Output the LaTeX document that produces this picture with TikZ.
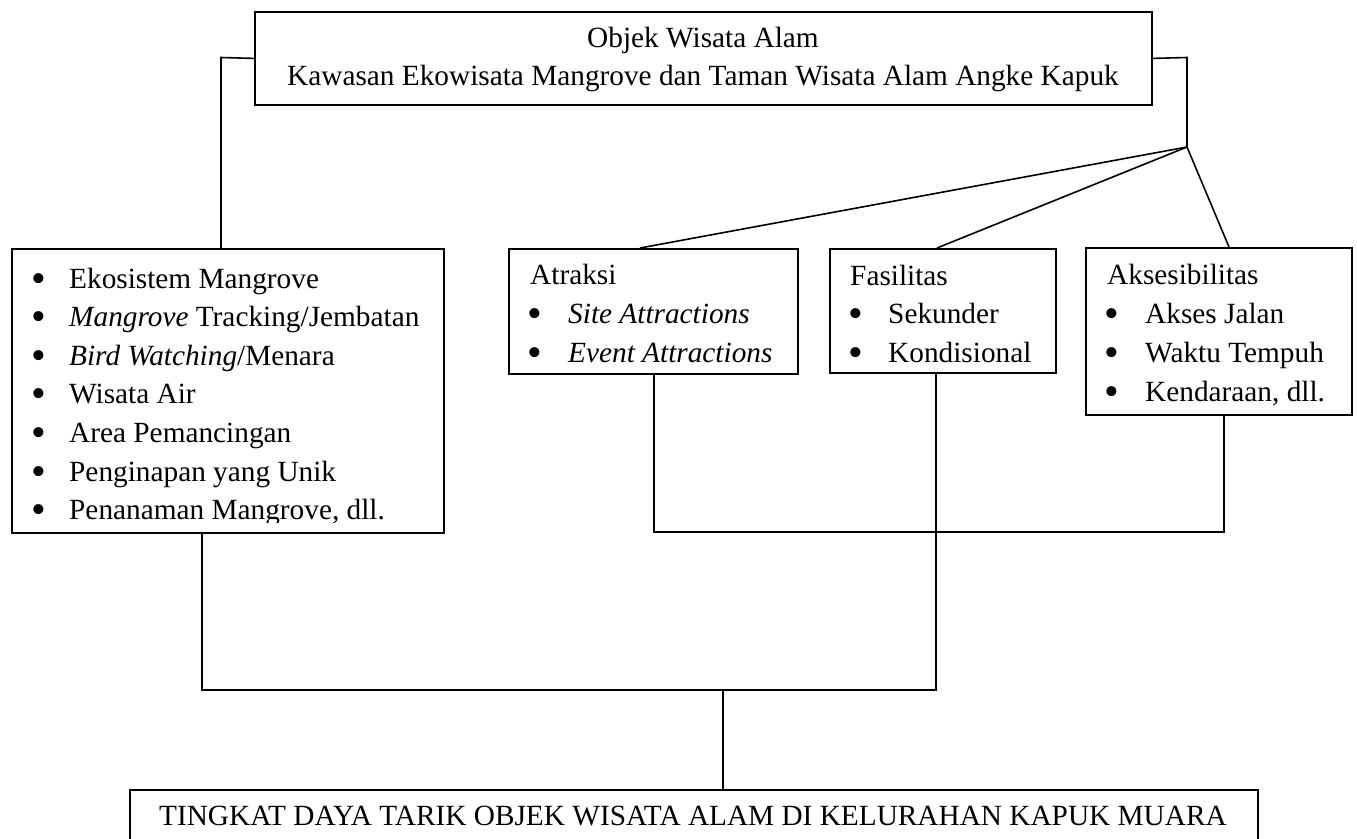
\documentclass[tikz,border=0pt]{standalone}
\usepackage{fontspec}
\setmainfont{Liberation Serif}
\begin{document}
\begin{tikzpicture}[x=1pt,y=-1pt,
  box/.style={draw, line width=1.8pt, inner sep=0pt, anchor=north west},
  conn/.style={line width=1.6pt},
  txt/.style={inner sep=0pt, anchor=base west, font=\fontsize{29.3}{38}\selectfont},
  ctxt/.style={inner sep=0pt, anchor=base, font=\fontsize{29.3}{38}\selectfont},
  bul/.style={inner sep=0pt, anchor=base, yshift=-4pt, font=\fontsize{42}{42}\selectfont}]
\clip (0,0) rectangle (1357,838);
\fill[white] (0,0) rectangle (1357,838);

% boxes
\node[box, minimum width=897pt, minimum height=93pt] (top) at (254,11) {};
\node[box, minimum width=432pt, minimum height=284pt] (lb) at (11,248) {};
\node[box, minimum width=289pt, minimum height=125pt] (atr) at (508,248) {};
\node[box, minimum width=226pt, minimum height=124pt] (fas) at (829,248) {};
\node[box, minimum width=266pt, minimum height=167pt] (aks) at (1085,247) {};
\node[box, minimum width=1128pt, minimum height=80pt] (bot) at (129,789) {};

% top text
\node[ctxt] (toptxt1) at (703,47) {Objek Wisata Alam};
\node[ctxt] (toptxt2) at (703,85) {Kawasan Ekowisata Mangrove dan Taman Wisata Alam Angke Kapuk};

% left box list
\foreach \i/\t in {1/{Ekosistem Mangrove},2/{\textit{Mangrove} Tracking/Jembatan},3/{\textit{Bird Watching}/Menara},4/{Wisata Air},5/{Area Pemancingan},6/{Penginapan yang Unik}}{
  \node[bul] (lbb\i) at (39,{288+38.6*(\i-1)}) {•};
  \node[txt] (lbt\i) at (69,{288+38.6*(\i-1)}) {\t};
}
\begin{scope}
\clip (11,248) rectangle (443,522);
\node[bul] (lbb7) at (39,{288+38.6*6}) {•};
\node[txt] (lbt7) at (69,{288+38.6*6}) {Penanaman Mangrove, dll.};
\end{scope}

% Atraksi
\node[txt] (atr0) at (530,284) {Atraksi};
\node[bul] (atrb1) at (535,323) {•};
\node[txt] (atr1) at (568,323) {\textit{Site Attractions}};
\node[bul] (atrb2) at (535,362) {•};
\node[txt] (atr2) at (568,362) {\textit{Event Attractions}};

% Fasilitas
\node[txt] (fas0) at (850,285) {Fasilitas};
\node[bul] (fasb1) at (856,323.5) {•};
\node[txt] (fas1) at (888,323.5) {Sekunder};
\begin{scope}
\clip (829,248) rectangle (1055,363);
\node[bul] (fasb2) at (856,362) {•};
\node[txt] (fas2) at (888,362) {Kondisional};
\end{scope}

% Aksesibilitas
\node[txt] (aks0) at (1107,284) {Aksesibilitas};
\node[bul] (aksb1) at (1112,323) {•};
\node[txt] (aks1) at (1145,323) {Akses Jalan};
\node[bul] (aksb2) at (1112,362) {•};
\node[txt] (aks2) at (1145,362) {Waktu Tempuh};
\node[bul] (aksb3) at (1112,401) {•};
\node[txt] (aks3) at (1145,401) {Kendaraan, dll.};

% bottom text
\node[ctxt] (bottxt) at (693,825) {TINGKAT DAYA TARIK OBJEK WISATA ALAM DI KELURAHAN KAPUK MUARA};

% connectors
\coordinate (lj) at (221,57.5);
\draw[conn] (top.west) -- (lj) -- (lj |- lb.north);
\coordinate (rj) at (1187,57.5);
\coordinate (fan) at (1187,147);
\draw[conn] (top.east) -- (rj) -- (fan);
\draw[conn] (fan) -- ([xshift=132pt]atr.north west);
\draw[conn] (fan) -- ([xshift=108pt]fas.north west);
\draw[conn] (fan) -- ([xshift=144pt]aks.north west);

\coordinate (ra) at (654,532);
\coordinate (rb) at (1224,532);
\draw[conn] (ra |- atr.south) -- (ra) -- (rb) -- (rb |- aks.south);

\coordinate (la) at (202,690);
\coordinate (lbx) at (936,690);
\draw[conn] (la |- lb.south) -- (la) -- (lbx) -- (lbx |- fas.south);

\coordinate (mid) at (723,690);
\draw[conn] (mid) -- (mid |- bot.north);
\end{tikzpicture}
\end{document}
